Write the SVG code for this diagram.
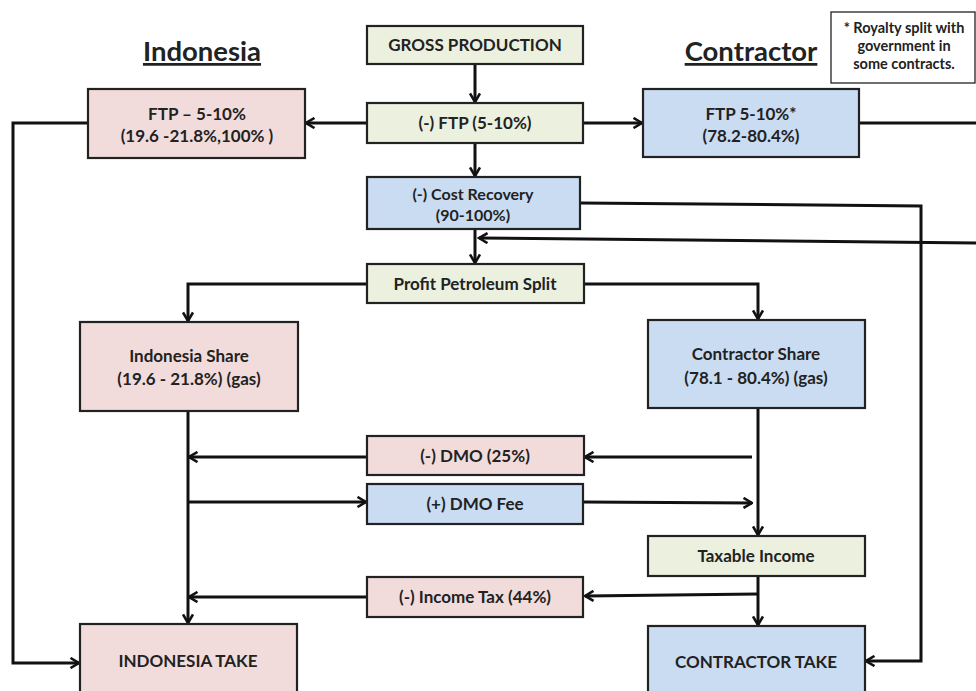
<svg xmlns="http://www.w3.org/2000/svg" width="976" height="691" viewBox="0 0 976 691">
<style>
.box{stroke:#222;stroke-width:2.2}
.pk{fill:#f2dcdb}.bl{fill:#c9dcf2}.gr{fill:#ecf0df}
.t{font-family:Lato,"Open Sans",sans-serif;font-weight:bold;font-size:17px;fill:#222;text-anchor:middle}
.n{font-size:14.5px}
.h{font-family:Lato,"Open Sans",sans-serif;font-weight:bold;font-size:27.5px;fill:#222;text-anchor:middle;text-decoration:underline}
.c{fill:none;stroke:#111;stroke-width:3;stroke-linejoin:miter}
.a{marker-end:url(#ah)}
</style>
<defs>
<marker id="ah" viewBox="0 0 12 12" refX="10.5" refY="6" markerWidth="12" markerHeight="12" markerUnits="userSpaceOnUse" orient="auto">
<path d="M2,1 L10.5,6 L2,11" fill="none" stroke="#111" stroke-width="2.6"/>
</marker>
</defs>
<rect width="976" height="691" fill="#fff"/>
<text class="h" x="202" y="61">Indonesia</text>
<text class="h" x="751" y="61">Contractor</text>
<g id="connectors">
<path class="c a" d="M475,64 V102"/>
<path class="c a" d="M475,143 V176"/>
<path class="c a" d="M475,229 V263"/>
<path class="c a" d="M367,123 H306"/>
<path class="c a" d="M583,123 H642"/>
<path class="c" d="M859,123 H976"/>
<path class="c a" d="M976,243 L479,238"/>
<path class="c a" d="M580,203 L921,206 V661 H866"/>
<path class="c a" d="M367,284 H188 V321"/>
<path class="c a" d="M584,284 H758 V319"/>
<path class="c a" d="M88,123 H13 V663 H79"/>
<path class="c a" d="M188,411 V623"/>
<path class="c a" d="M758,408 V535"/>
<path class="c a" d="M758,576 V625"/>
<path class="c a" d="M367,457 H189"/>
<path class="c a" d="M752,457 H585"/>
<path class="c a" d="M188,502 H366"/>
<path class="c a" d="M583,502 L752,503"/>
<path class="c a" d="M367,597 H189"/>
<path class="c a" d="M758,594 L585,596"/>
</g>
<g id="gross"><rect class="box gr" x="367" y="26" width="216" height="38"/><text class="t" x="475" y="51">GROSS PRODUCTION</text></g>
<g id="ftp"><rect class="box gr" x="367" y="103" width="216" height="40"/><text class="t" x="475" y="129">(-) FTP (5-10%)</text></g>
<g id="ftp-ind"><rect class="box pk" x="88" y="89" width="217" height="69"/><text class="t" x="197" y="120">FTP – 5-10%</text><text class="t" x="197" y="142">(19.6 -21.8%,100% )</text></g>
<g id="ftp-con"><rect class="box bl" x="643" y="89" width="216" height="68"/><text class="t" x="751" y="120">FTP 5-10%*</text><text class="t" x="751" y="142">(78.2-80.4%)</text></g>
<g id="note"><rect x="831" y="12" width="144" height="71" fill="#fff" stroke="#222" stroke-width="1.3"/><text class="t n" x="904" y="33">* Royalty split with</text><text class="t n" x="904" y="51">government in</text><text class="t n" x="904" y="69">some contracts.</text></g>
<g id="cost"><rect class="box bl" x="367" y="177" width="213" height="52"/><text class="t" x="473" y="200" style="font-size:16px">(-) Cost Recovery</text><text class="t" x="473" y="221" style="font-size:16px">(90-100%)</text></g>
<g id="pps"><rect class="box gr" x="367" y="264" width="217" height="39"/><text class="t" x="475" y="290">Profit Petroleum Split</text></g>
<g id="ind-share"><rect class="box pk" x="80" y="322" width="218" height="89"/><text class="t" x="189" y="362">Indonesia Share</text><text class="t" x="189" y="385">(19.6 - 21.8%) (gas)</text></g>
<g id="con-share"><rect class="box bl" x="648" y="320" width="217" height="88"/><text class="t" x="756" y="360">Contractor Share</text><text class="t" x="756" y="384">(78.1 - 80.4%) (gas)</text></g>
<g id="dmo"><rect class="box pk" x="367" y="436" width="217" height="39"/><text class="t" x="475" y="462">(-) DMO (25%)</text></g>
<g id="dmofee"><rect class="box bl" x="367" y="484" width="216" height="40"/><text class="t" x="475" y="510">(+) DMO Fee</text></g>
<g id="taxable"><rect class="box gr" x="648" y="536" width="217" height="40"/><text class="t" x="756" y="562">Taxable Income</text></g>
<g id="tax"><rect class="box pk" x="367" y="577" width="216" height="40"/><text class="t" x="475" y="603">(-) Income Tax (44%)</text></g>
<g id="ind-take"><rect class="box pk" x="80" y="624" width="217" height="80"/><text class="t" x="188" y="667">INDONESIA TAKE</text></g>
<g id="con-take"><rect class="box bl" x="648" y="626" width="217" height="80"/><text class="t" x="756" y="668">CONTRACTOR TAKE</text></g>
</svg>
